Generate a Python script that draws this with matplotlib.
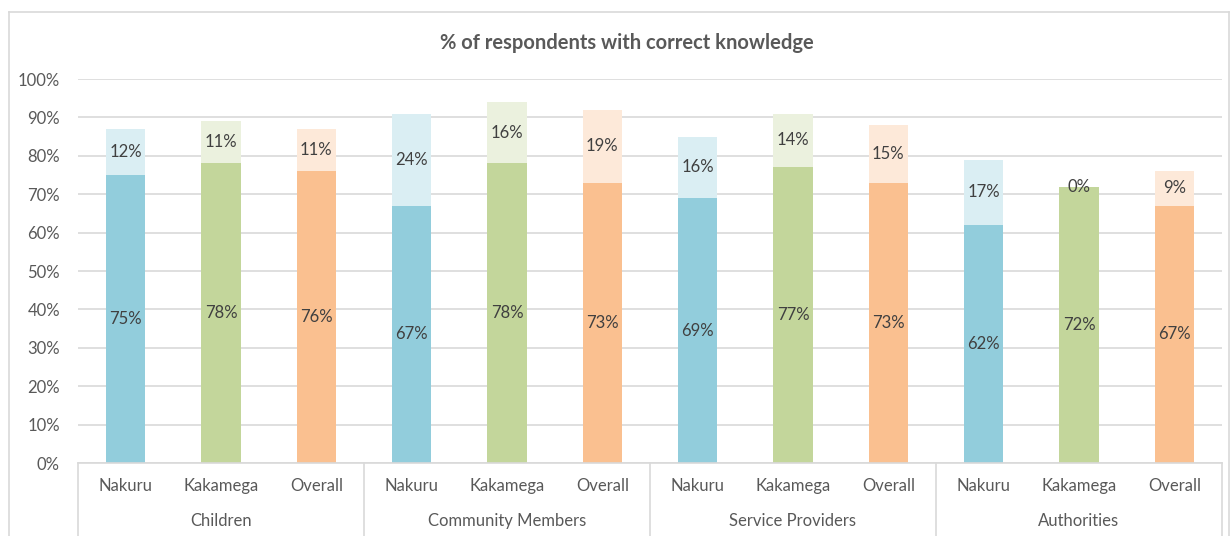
import matplotlib.pyplot as plt
import matplotlib.transforms as mtransforms
from matplotlib.lines import Line2D
import numpy as np

groups = ['Children', 'Community Members', 'Service Providers', 'Authorities']
sites = ['Nakuru', 'Kakamega', 'Overall']
# lower (correct) and upper (additional) segments, per group, per site
base = [[75, 78, 76], [67, 78, 73], [69, 77, 73], [62, 72, 67]]
extra = [[12, 11, 11], [24, 16, 19], [16, 14, 15], [17, 0, 9]]

dark_cols = ['#92CDDC', '#C3D69B', '#FAC090']
light_cols = ['#DAEEF3', '#EBF1DE', '#FDE9D9']

plt.rcParams['font.family'] = ['Lato', 'DejaVu Sans']
txt_col = '#404040'
tick_col = '#595959'
grid_col = '#D9D9D9'
fs = 12

fig = plt.figure(figsize=(12.31, 5.36), dpi=100)
ax = fig.add_axes([78/1231, (536-463)/536, (1222-78)/1231, 384/536])

width = 0.41
for g in range(len(groups)):
    for i in range(len(sites)):
        x = g*3 + i
        b = base[g][i]
        e = extra[g][i]
        ax.bar(x, b, width, color=dark_cols[i], zorder=2)
        ax.bar(x, e, width, bottom=b, color=light_cols[i], zorder=2)
        ax.text(x, b/2, f'{b}%', ha='center', va='center', fontsize=fs, color=txt_col, zorder=3)
        ax.text(x, b + e/2, f'{e}%', ha='center', va='center', fontsize=fs, color=txt_col, zorder=3)

ax.set_xlim(-0.5, 11.5)
ax.set_ylim(0, 100)
ax.set_yticks(np.arange(0, 101, 10))
ax.set_yticklabels([f'{v}%' for v in range(0, 101, 10)])
ax.tick_params(axis='y', length=0, pad=13, labelsize=fs, labelcolor=tick_col)
ax.tick_params(axis='x', length=0)
ax.set_xticks([])
ax.yaxis.grid(True, color=grid_col, linewidth=1.2, zorder=0)
for s in ['top', 'right', 'left']:
    ax.spines[s].set_visible(False)
ax.spines['bottom'].set_color(grid_col)
ax.spines['bottom'].set_linewidth(1.2)

# two-level category axis
trans = mtransforms.blended_transform_factory(ax.transData, ax.transAxes)
for g in range(len(groups)):
    for i in range(len(sites)):
        ax.text(g*3 + i, -0.06, sites[i], transform=trans, ha='center', va='center',
                fontsize=fs, color=tick_col)
    ax.text(g*3 + 1, -0.151, groups[g], transform=trans, ha='center', va='center',
            fontsize=fs, color=tick_col)
for xb in np.arange(-0.5, 12, 3):
    ax.plot([xb, xb], [0, -0.2], transform=trans, color=grid_col, linewidth=1.2, clip_on=False)

fig.text(627/1231, (536-43)/536, '% of respondents with correct knowledge', fontsize=14.5,
         fontweight='bold', color=tick_col, ha='center', va='center')

# chart border
x0, x1, yt = 8.5/1231, 1229/1231, (536-12)/536
for xs, ys in [([x0, x1], [yt, yt]), ([x0, x0], [0, yt]), ([x1, x1], [0, yt])]:
    fig.add_artist(Line2D(xs, ys, color=grid_col, linewidth=1.2, transform=fig.transFigure))

fig.savefig('out.png', dpi=100)
